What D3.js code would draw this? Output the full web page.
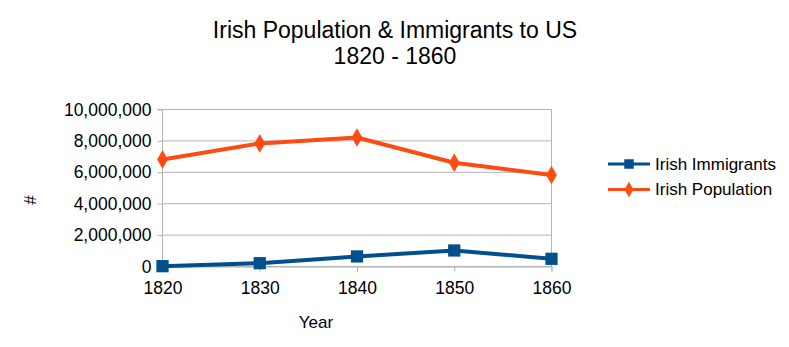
<!DOCTYPE html>
<html><head><meta charset="utf-8">
<script src="https://cdn.jsdelivr.net/npm/d3@7"></script>
<style>body{margin:0;background:#fff}text{font-family:"Liberation Sans",Arial,sans-serif;fill:#000}</style>
</head><body><svg id="c" width="789" height="347"></svg>
<script>
const years = [1820, 1830, 1840, 1850, 1860];
const immigrants = [20000, 210000, 640000, 1020000, 490000];
const population = [6820000, 7840000, 8220000, 6610000, 5830000];
const yTicks = [0, 2000000, 4000000, 6000000, 8000000, 10000000];
const seriesNames = ["Irish Immigrants", "Irish Population"];
const colors = ["#004f8f", "#ff4a12"];

const svg = d3.select("#c");
const L = 162.5, R = 551.5, T = 109.5, B = 266.5;
const x = d3.scalePoint().domain(years).range([L, R]);
const y = d3.scaleLinear().domain([0, 10000000]).range([B, T]);

svg.append("g").selectAll("line").data(yTicks).join("line")
  .attr("x1", L).attr("x2", R).attr("y1", d => y(d)).attr("y2", d => y(d))
  .attr("stroke", "#b3b3b3").attr("stroke-width", 1);
svg.append("line").attr("x1", R).attr("x2", R).attr("y1", T).attr("y2", B).attr("stroke", "#b3b3b3");

const fmt = d3.format(",");
const yAxis = svg.append("g").attr("transform", `translate(${L},0)`)
  .call(d3.axisLeft(y).tickValues(yTicks).tickFormat(fmt).tickSize(5).tickPadding(6));
const xAxis = svg.append("g").attr("transform", `translate(0,${B})`)
  .call(d3.axisBottom(x).tickSize(5).tickPadding(10).tickFormat(d3.format("d")));
[yAxis, xAxis].forEach(a => {
  a.select(".domain").attr("stroke", "#b3b3b3");
  a.selectAll(".tick line").attr("stroke", "#b3b3b3");
  a.selectAll("text").attr("font-size", 17.5).attr("font-family", "Liberation Sans, Arial, sans-serif").attr("fill", "#000");
});
yAxis.select(".domain").attr("d", `M-5,${B}H0V${T}H-5`);

const data = [immigrants, population];
const line = d3.line().x((d, i) => x(years[i])).y(d => y(d));
data.forEach((s, k) => {
  svg.append("path").datum(s).attr("d", line).attr("fill", "none")
    .attr("stroke", colors[k]).attr("stroke-width", 4).attr("stroke-linejoin", "round");
});
const sq = d3.symbol().type(d3.symbolSquare).size(150);
const di = d3.symbol().type(d3.symbolDiamond).size(100);
data.forEach((s, k) => {
  svg.append("g").selectAll("path").data(s).join("path")
    .attr("transform", (d, i) => `translate(${x(years[i])},${y(d)})`)
    .attr("d", k === 0 ? sq : di).attr("fill", colors[k]);
});

seriesNames.forEach((n, k) => {
  const ly = 164 + k * 25.5;
  svg.append("line").attr("x1", 608).attr("x2", 650).attr("y1", ly).attr("y2", ly)
    .attr("stroke", colors[k]).attr("stroke-width", 3);
  svg.append("path").attr("transform", `translate(629,${ly})`)
    .attr("d", k === 0 ? d3.symbol().type(d3.symbolSquare).size(90)() : d3.symbol().type(d3.symbolDiamond).size(70)())
    .attr("fill", colors[k]);
  svg.append("text").attr("x", 655).attr("y", ly + 5.8).attr("font-size", 17).text(n);
});

svg.append("text").attr("x", 395).attr("y", 37.5).attr("text-anchor", "middle").attr("font-size", 23).text("Irish Population & Immigrants to US");
svg.append("text").attr("x", 395).attr("y", 64).attr("text-anchor", "middle").attr("font-size", 23).text("1820 - 1860");
svg.append("text").attr("x", 316).attr("y", 328).attr("text-anchor", "middle").attr("font-size", 17).text("Year");
svg.append("text").attr("transform", "translate(36,200) rotate(-90)").attr("text-anchor", "middle").attr("font-size", 17).text("#");
</script></body></html>
